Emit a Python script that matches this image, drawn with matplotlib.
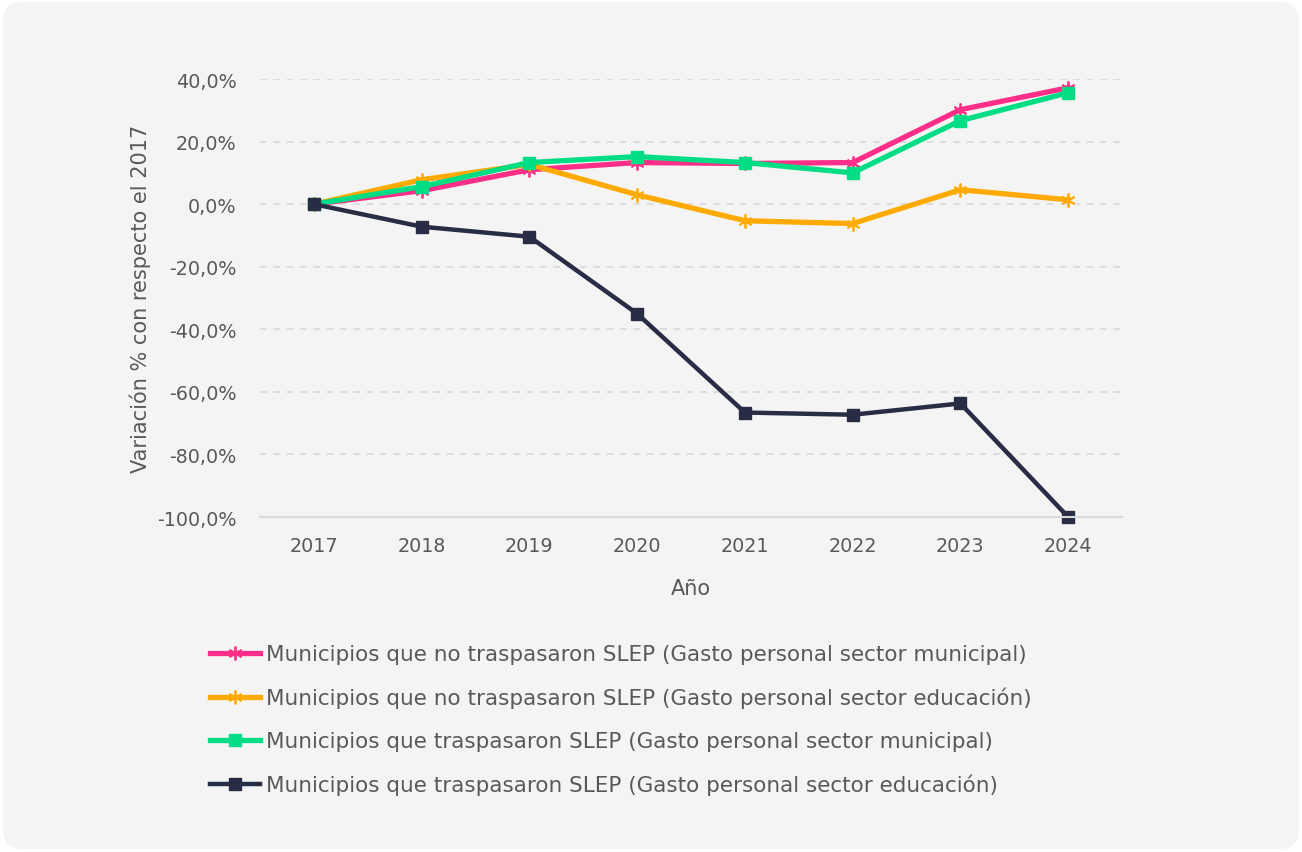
import matplotlib
matplotlib.use("Agg")
import matplotlib.pyplot as plt
from matplotlib.patches import FancyBboxPatch
from matplotlib.ticker import FuncFormatter

# data (% change vs 2017)
years = [2017, 2018, 2019, 2020, 2021, 2022, 2023, 2024]
no_trasp_municipal = [0.0, 4.3, 11.0, 13.3, 13.0, 13.3, 30.2, 37.2]
no_trasp_educacion = [0.0, 7.8, 12.7, 3.0, -5.3, -6.2, 4.6, 1.4]
trasp_municipal = [0.0, 5.6, 13.3, 15.2, 13.3, 10.0, 26.7, 35.6]
trasp_educacion = [0.0, -7.2, -10.4, -35.0, -66.6, -67.3, -63.7, -100.0]

labels = [
    "Municipios que no traspasaron SLEP (Gasto personal sector municipal)",
    "Municipios que no traspasaron SLEP (Gasto personal sector educación)",
    "Municipios que traspasaron SLEP (Gasto personal sector municipal)",
    "Municipios que traspasaron SLEP (Gasto personal sector educación)",
]
y_ticks = [-100, -80, -60, -40, -20, 0, 20, 40]

plt.rcParams['font.family'] = ['DejaVu Sans']
text_col = '#595959'

fig = plt.figure(figsize=(13.02, 8.53), dpi=100)
fig.patch.set_facecolor('white')

# rounded light gray card behind everything
card = FancyBboxPatch((0.03, 0.03), 12.96, 8.47,
                      boxstyle="round,pad=0,rounding_size=0.2",
                      transform=fig.dpi_scale_trans,
                      fc='#f4f4f4', ec='none', zorder=-10)
fig.patches.append(card)

ax = fig.add_axes([0.1997, 0.3927, 0.6621, 0.5135])
ax.set_facecolor('none')

asterisk = (6, 2, 0)
ax.plot(years, no_trasp_municipal, color='#ff2e88', lw=3.8, marker=asterisk,
        ms=10, mew=1.3, label=labels[0], clip_on=False)
ax.plot(years, no_trasp_educacion, color='#ffaa00', lw=3.8, marker=asterisk,
        ms=10, mew=1.3, label=labels[1], clip_on=False)
ax.plot(years, trasp_municipal, color='#00dd84', lw=3.8, marker='s',
        ms=9, label=labels[2], clip_on=False)
ax.plot(years, trasp_educacion, color='#282c45', lw=3.2, marker='s',
        ms=8.5, label=labels[3], clip_on=False)

ax.set_xlim(2016.5, 2024.5)
ax.set_ylim(-100, 40)
ax.set_xticks(years)
ax.set_yticks(y_ticks)
ax.yaxis.set_major_formatter(FuncFormatter(lambda v, p: f"{v:.1f}%".replace('.', ',')))

ax.grid(axis='y', color='#d9d9d9', ls=(0, (4, 4)), lw=1.2)
ax.set_axisbelow(True)
for s in ['top', 'right', 'left']:
    ax.spines[s].set_visible(False)
ax.spines['bottom'].set_color('#d9d9d9')
ax.spines['bottom'].set_linewidth(1.5)
ax.tick_params(length=0, labelsize=13.8, colors=text_col)
ax.tick_params(axis='y', pad=17)
ax.tick_params(axis='x', pad=14)

ax.set_xlabel("Año", fontsize=15, color=text_col, labelpad=16)
ax.set_ylabel("Variación % con respecto el 2017", fontsize=15, color=text_col, labelpad=4)

fig.legend(loc='center left', bbox_to_anchor=(0.161, 0.155), frameon=False,
           fontsize=15.5, labelcolor=text_col, handlelength=2.35,
           handletextpad=0.25, labelspacing=1.05, borderpad=0, borderaxespad=0)

fig.savefig("out.png", dpi=100)
